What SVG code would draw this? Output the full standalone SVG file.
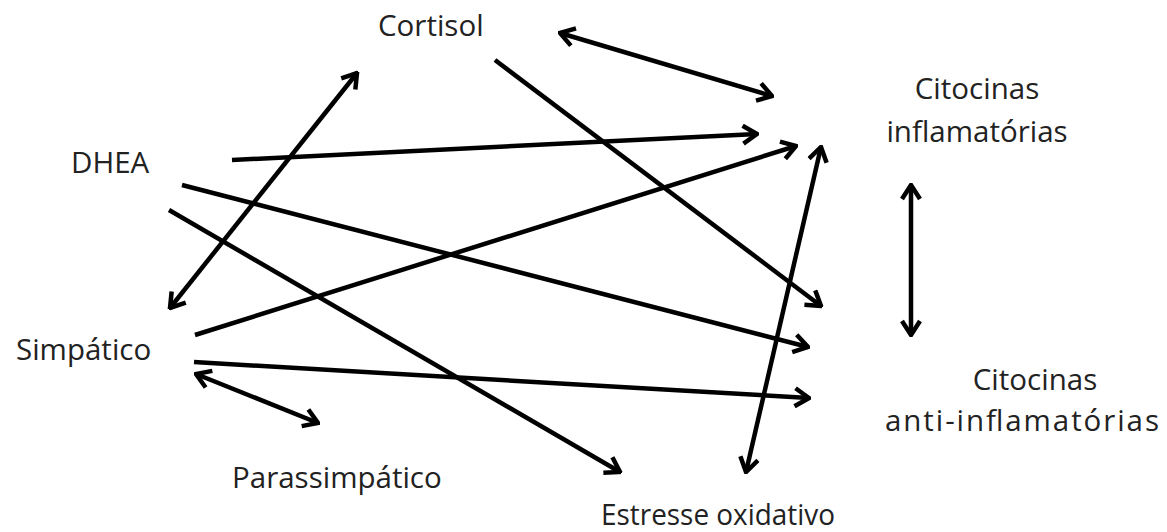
<svg xmlns="http://www.w3.org/2000/svg" width="1167" height="532" viewBox="0 0 1167 532">
<style>
.lbl{font-family:"Open Sans","Liberation Sans",sans-serif;font-size:29.5px;fill:#222}
.c{stroke:#000;stroke-width:4.5;fill:none;stroke-linecap:butt}
.one{marker-end:url(#ah)}
.two{marker-start:url(#ah);marker-end:url(#ah)}
</style>
<defs>
<marker id="ah" viewBox="0 0 18 22" refX="16" refY="11" markerWidth="18" markerHeight="22" markerUnits="userSpaceOnUse" orient="auto-start-reverse">
<path d="M2,2 L16,11 L2,20" fill="none" stroke="#000" stroke-width="4.5" stroke-linejoin="miter"/>
</marker>
</defs>
<rect width="1167" height="532" fill="#fff"/>
<g id="connectors">
<line class="c two" x1="560" y1="33" x2="772" y2="96"/>
<line class="c one" x1="495" y1="60" x2="821" y2="306"/>
<line class="c one" x1="232" y1="160" x2="757" y2="134"/>
<line class="c two" x1="170" y1="308" x2="357" y2="73"/>
<line class="c one" x1="182" y1="185" x2="808" y2="347"/>
<line class="c one" x1="169" y1="210" x2="620" y2="472"/>
<line class="c one" x1="195" y1="335" x2="796" y2="146"/>
<line class="c one" x1="194" y1="362" x2="809" y2="398"/>
<line class="c two" x1="196" y1="374" x2="318" y2="423"/>
<line class="c two" x1="746" y1="472" x2="821" y2="147"/>
<line class="c two" x1="911" y1="185" x2="911" y2="335"/>
</g>
<g id="cortisol"><text class="lbl" x="378" y="36">Cortisol</text></g>
<g id="dhea"><text class="lbl" x="71" y="173">DHEA</text></g>
<g id="simpatico"><text class="lbl" x="16" y="360">Simpático</text></g>
<g id="parassimpatico"><text class="lbl" x="232" y="488">Parassimpático</text></g>
<g id="estresse"><text class="lbl" x="601" y="525" textLength="234" lengthAdjust="spacingAndGlyphs">Estresse oxidativo</text></g>
<g id="citocinas-infl"><text class="lbl" x="977" y="99" text-anchor="middle">Citocinas</text><text class="lbl" x="977" y="142" text-anchor="middle">inflamatórias</text></g>
<g id="citocinas-anti"><text class="lbl" x="1035" y="390" text-anchor="middle">Citocinas</text><text class="lbl" x="885" y="431" textLength="274" lengthAdjust="spacing">anti-inflamatórias</text></g>
</svg>
